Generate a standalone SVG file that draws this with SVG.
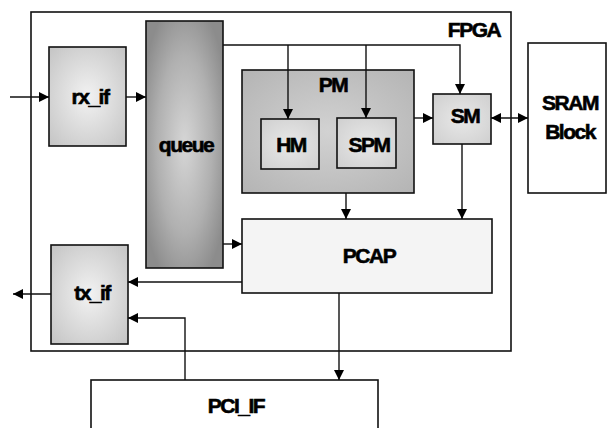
<svg xmlns="http://www.w3.org/2000/svg" width="608" height="428" viewBox="0 0 608 428">
<style>
.box{stroke:#111;stroke-width:1.6}
.lbl{font-family:"Liberation Sans",Arial,sans-serif;font-weight:bold;font-size:21px;letter-spacing:-1.5px;fill:#000;stroke:#000;stroke-width:0.6;text-anchor:middle}
.ln{fill:none;stroke:#111;stroke-width:1.4}
</style>
<defs>
<marker id="ah" viewBox="0 0 10 10" refX="10" refY="5" markerWidth="10" markerHeight="10" markerUnits="userSpaceOnUse" orient="auto-start-reverse"><path d="M0,0 L10,5 L0,10 z" fill="#000"/></marker>
<radialGradient id="gq" cx="0.5" cy="0.5" r="0.6"><stop offset="0" stop-color="#d6d6d6"/><stop offset="0.6" stop-color="#b0b0b0"/><stop offset="1" stop-color="#8c8c8c"/></radialGradient>
<radialGradient id="gio" cx="0.5" cy="0.5" r="0.7"><stop offset="0" stop-color="#f2f2f2"/><stop offset="1" stop-color="#c4c4c4"/></radialGradient>
<radialGradient id="gpm" cx="0.5" cy="0.5" r="0.7"><stop offset="0" stop-color="#d2d2d2"/><stop offset="1" stop-color="#b4b4b4"/></radialGradient>
<radialGradient id="gsm" cx="0.5" cy="0.5" r="0.7"><stop offset="0" stop-color="#e8e8e8"/><stop offset="1" stop-color="#cfcfcf"/></radialGradient>
</defs>
<g id="fpga"><rect x="31" y="12" width="480" height="339" fill="#fff" class="box" stroke-width="1.3"/><text class="lbl" x="474" y="37">FPGA</text></g>
<g id="sram"><rect x="528" y="43" width="78" height="150" fill="#fff" class="box"/><text class="lbl" x="570" y="110">SRAM</text><text class="lbl" x="570" y="139">Block</text></g>
<g id="pci_if"><rect x="91" y="380" width="287" height="60" fill="#fff" class="box"/><text class="lbl" x="236" y="413">PCI_IF</text></g>
<g id="rx_if"><rect x="49" y="47" width="77" height="99" fill="url(#gio)" class="box"/><text class="lbl" x="90" y="104">rx_if</text></g>
<g id="queue"><rect x="146" y="21" width="77" height="247" fill="url(#gq)" class="box"/><text class="lbl" x="186" y="152">queue</text></g>
<g id="pm"><rect x="242" y="70" width="172" height="123" fill="url(#gpm)" class="box"/><text class="lbl" x="333" y="92">PM</text></g>
<g id="hm"><rect x="261" y="119" width="58" height="50" fill="url(#gsm)" class="box"/><text class="lbl" x="291" y="152">HM</text></g>
<g id="spm"><rect x="337" y="118" width="59" height="50" fill="url(#gsm)" class="box"/><text class="lbl" x="369" y="152">SPM</text></g>
<g id="sm"><rect x="433" y="94" width="58" height="50" fill="url(#gsm)" class="box"/><text class="lbl" x="465" y="123">SM</text></g>
<g id="pcap"><rect x="242" y="219" width="250" height="74" fill="#f4f4f4" class="box"/><text class="lbl" x="369" y="263">PCAP</text></g>
<g id="tx_if"><rect x="51" y="245" width="77" height="99" fill="url(#gio)" class="box"/><text class="lbl" x="92" y="300">tx_if</text></g>
<g id="connectors">
<path class="ln" d="M10,97 H49" marker-end="url(#ah)"/>
<path class="ln" d="M126,97 H146" marker-end="url(#ah)"/>
<path class="ln" d="M223,45 H460 V94" marker-end="url(#ah)"/>
<path class="ln" d="M288,45 V119" marker-end="url(#ah)"/>
<path class="ln" d="M366,45 V118" marker-end="url(#ah)"/>
<path class="ln" d="M414,118 H433" marker-end="url(#ah)"/>
<path class="ln" d="M491,118 H528" marker-start="url(#ah)" marker-end="url(#ah)"/>
<path class="ln" d="M346,193 V219" marker-end="url(#ah)"/>
<path class="ln" d="M462,144 V219" marker-end="url(#ah)"/>
<path class="ln" d="M223,244 H242" marker-end="url(#ah)"/>
<path class="ln" d="M242,282 H128" marker-end="url(#ah)"/>
<path class="ln" d="M51,294 H13" marker-end="url(#ah)"/>
<path class="ln" d="M185,380 V318 H128" marker-end="url(#ah)"/>
<path class="ln" d="M339,293 V380" marker-end="url(#ah)"/>
</g>
</svg>
